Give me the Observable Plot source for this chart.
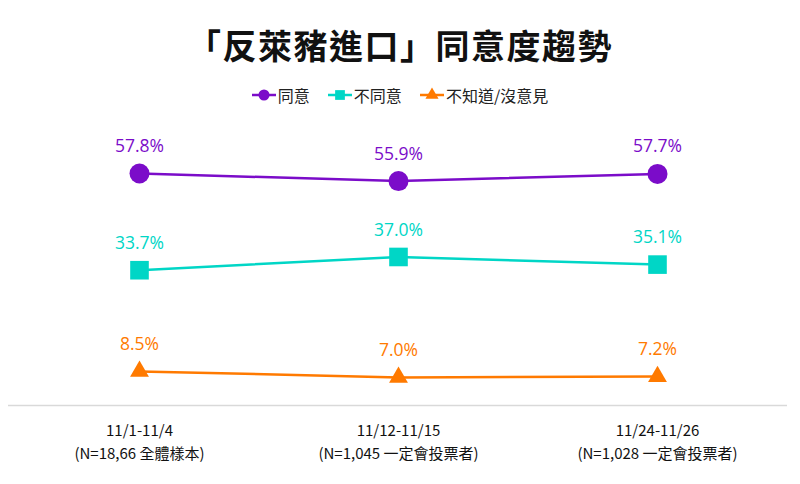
<!DOCTYPE html>
<html>
<head>
<meta charset="utf-8">
<script src="https://cdn.jsdelivr.net/npm/d3@7"></script>
<script src="https://cdn.jsdelivr.net/npm/@observablehq/plot@0.6"></script>
<style>
  html, body { margin: 0; padding: 0; background: #fff; }
  body { width: 800px; height: 484px; position: relative; overflow: hidden; font-family: "Noto Sans CJK TC", "Open Sans", sans-serif; }
  #title { position: absolute; left: 0; top: 23px; width: 800px; text-align: center; font-size: 34px; line-height: 44px; font-weight: 700; color: #111; letter-spacing: 1.5px; }
  #legend { position: absolute; left: 0; top: 83px; width: 800px; display: flex; justify-content: center; align-items: center; font-size: 16px; line-height: 24px; color: #222; }
  .item { display: flex; align-items: center; margin: 0 9px; }
  .item svg { margin-right: 2px; }
  #chart { position: absolute; left: 0; top: 115px; }
</style>
</head>
<body>
<div id="title">「反萊豬進口」同意度趨勢</div>
<div id="legend"></div>
<div id="chart"></div>
<script>
const periods = ["11/1-11/4", "11/12-11/15", "11/24-11/26"];
const samples = ["(N=18,66 全體樣本)", "(N=1,045 一定會投票者)", "(N=1,028 一定會投票者)"];
const seriesNames = ["同意", "不同意", "不知道/沒意見"];
const agree = [57.8, 55.9, 57.7];
const disagree = [33.7, 37.0, 35.1];
const unknown = [8.5, 7.0, 7.2];

const colors = ["#7b0cc9", "#00d6c6", "#ff7a00"];
const symbols = ["circle", "square", "triangle"];
const radii = [10, 10.5, 7];
const valuesBySeries = [agree, disagree, unknown];

const sampleOf = new Map(periods.map((p, i) => [p, samples[i]]));

const seriesData = valuesBySeries.map((vals, s) =>
  periods.map((p, i) => ({ period: p, series: seriesNames[s], value: vals[i] }))
);

const marks = [
  Plot.ruleY([0], { stroke: "#d9d9d9", strokeWidth: 1.5 })
];
seriesData.forEach((data, s) => {
  marks.push(Plot.line(data, { x: "period", y: "value", stroke: colors[s], strokeWidth: 2.5 }));
  marks.push(Plot.dot(data, { x: "period", y: "value", fill: colors[s], symbol: () => symbols[s], r: radii[s] }));
  marks.push(Plot.text(data, {
    x: "period", y: "value", text: d => d.value.toFixed(1) + "%",
    dy: -27, fill: colors[s], fontSize: 17.5, fontFamily: "Open Sans, sans-serif"
  }));
});
marks.push(Plot.axisX({
  tickSize: 0, tickPadding: 15, label: null, fontSize: 15, lineHeight: 1.5,
  lineAnchor: "top", fill: "#111",
  tickFormat: d => d + "\n" + sampleOf.get(d)
}));

const chart = Plot.plot({
  width: 800,
  height: 369,
  marginTop: 9,
  marginBottom: 79,
  marginLeft: 8,
  marginRight: 13,
  style: { fontFamily: "'Noto Sans CJK TC', sans-serif", background: "transparent" },
  x: { type: "point", domain: periods, padding: 0.5, axis: null },
  y: { domain: [0, 70], axis: null },
  symbol: { domain: symbols, range: symbols },
  marks
});
document.getElementById("chart").appendChild(chart);

// legend
const legend = document.getElementById("legend");
seriesNames.forEach((name, s) => {
  const item = document.createElement("div");
  item.className = "item";
  const svg = d3.create("svg").attr("width", 24).attr("height", 16);
  svg.append("line").attr("x1", 0).attr("x2", 24).attr("y1", 8).attr("y2", 8)
    .attr("stroke", colors[s]).attr("stroke-width", 2.5);
  const sym = { circle: d3.symbolCircle, square: d3.symbolSquare, triangle: d3.symbolTriangle }[symbols[s]];
  const size = s === 2 ? 75 : 95;
  svg.append("path").attr("d", d3.symbol(sym, size)()).attr("transform", "translate(12,8)").attr("fill", colors[s]);
  item.appendChild(svg.node());
  const span = document.createElement("span");
  span.textContent = name;
  item.appendChild(span);
  legend.appendChild(item);
});
</script>
</body>
</html>
